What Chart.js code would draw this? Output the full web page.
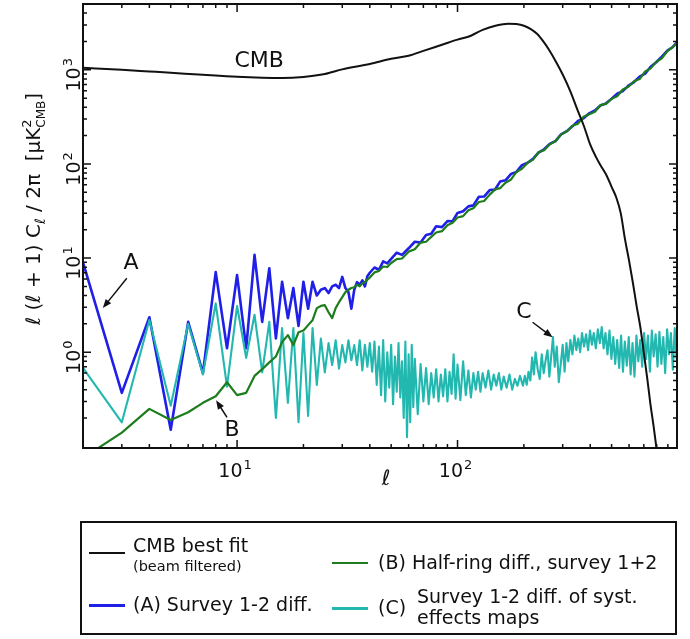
<!DOCTYPE html>
<html>
<head>
<meta charset="utf-8">
<title>Angular power spectra</title>
<script src="https://cdn.jsdelivr.net/npm/chart.js@4.4.1/dist/chart.umd.min.js"></script>
<style>
  html, body { margin: 0; background: #fff; }
  #page { position: relative; width: 690px; height: 639px; overflow: hidden; font-family: "DejaVu Sans", sans-serif; color: #111; }
  #chart { position: absolute; left: 0; top: 0; }
  #legend { position: absolute; left: 80px; top: 521px; width: 597px; height: 114px; box-sizing: border-box; border: 2px solid #111; }
  .key { position: absolute; width: 36px; }
  .lbl { position: absolute; font-size: 19px; line-height: 19px; white-space: nowrap; }
  .small { font-size: 14.5px; line-height: 15px; }
</style>
</head>
<body>
<div id="page">
  <canvas id="chart" width="690" height="639"></canvas>
  <div id="legend"></div>
  <div class="key" style="left:89px; top:552px; height:2px; background:#111"></div>
  <div class="lbl" style="left:133px; top:536px">CMB best fit</div>
  <div class="lbl small" style="left:133px; top:559px">(beam filtered)</div>
  <div class="key" style="left:89px; top:604px; height:3px; background:#1f1fe8"></div>
  <div class="lbl" style="left:133px; top:595px">(A) Survey 1-2 diff.</div>
  <div class="key" style="left:332px; top:562px; height:2px; background:#1d7d1d"></div>
  <div class="lbl" style="left:378px; top:553px">(B) Half-ring diff., survey 1+2</div>
  <div class="key" style="left:332px; top:607px; height:3px; background:#22b8b0"></div>
  <div class="lbl" style="left:378px; top:598px">(C)</div>
  <div class="lbl" style="left:417px; top:587px">Survey 1-2 diff. of syst.</div>
  <div class="lbl" style="left:417px; top:608px">effects maps</div>
</div>
<script>
// multipoles of the best-fit CMB spectrum (beam filtered), in uK^2
const cmbEll = [2, 3, 4, 5, 7, 10, 13, 16, 20, 25, 30, 40, 50, 60, 70, 85, 100, 115, 130, 150,
  170, 185, 200, 215, 230, 245, 260, 280, 300, 325, 350, 375, 400, 425, 450, 475, 500, 525, 550, 575,
  600, 625, 650, 675, 700, 725, 750, 775, 800];
const cmbBestFit = [1050, 1000, 960, 930, 885, 843, 825, 820, 840, 900, 1010, 1150, 1310, 1410, 1590, 1845, 2090, 2300, 2660, 2960,
  3090, 3060, 2940, 2710, 2400, 2000, 1630, 1210, 890, 590, 375, 250, 160, 118, 93, 75, 57, 44, 30, 15.9,
  9.4, 5.4, 3.05, 1.85, 0.99, 0.535, 0.28, 0.165, 0.093];

// multipoles shared by the two difference maps (A) and (B)
const diffEll = [2, 3, 4, 5, 6, 7, 8, 9, 10, 11, 12, 13, 14, 15, 16, 17, 18, 19, 20, 21,
  22, 23, 24, 25, 26, 27, 28, 29, 30, 31, 32, 33, 34, 35, 36, 37, 38, 39,
  40, 42, 44, 46, 48, 50, 53, 56, 60, 64, 68, 72, 76, 80, 85, 90, 95, 100, 106, 112,
  118, 125, 132, 140, 148, 156, 165, 175, 185, 196, 208, 220, 233, 247, 262, 278, 295, 313, 332, 352,
  373, 396, 420, 445, 472, 500, 530, 562, 596, 632, 670, 710, 752, 797, 845, 895, 948, 1000];
const surveyDiffA = [9.0, 0.37, 2.35, 0.15, 2.1, 0.6, 7.1, 1.1, 6.6, 1.1, 10.8, 2.1, 7.8, 1.4, 5.6, 2.3, 4.8, 1.9, 5.6, 2.9,
  5.6, 4.0, 4.6, 4.8, 4.25, 5.0, 5.2, 4.8, 6.3, 4.8, 4.35, 2.9, 4.6, 5.55, 5.2, 5.8, 5.0, 6.4,
  6.98, 7.94, 7.51, 9.24, 8.78, 9.82, 11.4, 10.8, 12.7, 14.9, 14.6, 17.6, 18.1, 21.8, 21.3, 24.7, 24.6, 30.2, 31.4, 35.4,
  36.3, 44.8, 45.0, 52.8, 53.6, 64.9, 67.0, 78.4, 82.2, 97.0, 103, 113, 132, 143, 163, 175, 206, 223, 251, 287,
  305, 345, 370, 417, 440, 492, 556, 594, 679, 741, 847, 912, 1078, 1202, 1382, 1600, 1747, 2006];
const halfRingB = [0.075, 0.14, 0.25, 0.19, 0.23, 0.29, 0.34, 0.48, 0.35, 0.37, 0.56, 0.66, 0.78, 0.9, 1.28, 1.52, 1.19, 1.63, 1.7, 1.94,
  2.19, 2.94, 3.1, 3.16, 2.66, 2.3, 2.94, 3.4, 3.85, 4.35, 4.6, 4.8, 4.9, 5.2, 5.0, 5.4, 5.55, 5.9,
  6.2, 7.04, 7.29, 8.14, 8.03, 8.86, 9.76, 9.89, 11.7, 12.4, 14.6, 14.9, 16.8, 18.7, 19.3, 22.3, 23.7, 27.0, 27.9, 32.2,
  33.9, 39.4, 40.4, 47.2, 53.6, 55.3, 63.2, 68.4, 82.2, 88.9, 103, 111, 133, 140, 162, 174, 206, 221, 254, 268,
  317, 338, 359, 421, 435, 492, 524, 618, 659, 756, 797, 959, 1036, 1214, 1327, 1584, 1747, 1986];

// multipoles and spectrum of the systematic-effects difference map (C)
const systEll = [2, 3, 4, 5, 6, 7, 8, 9, 10, 11, 12, 13, 14, 15, 16, 17, 18, 19, 20, 21,
  22, 23, 24, 25, 26, 27, 28, 29, 30, 31, 32, 33, 34, 35, 36, 37, 38, 39,
  40, 41, 42, 43, 44, 45, 46, 47, 48, 49, 50, 51, 52, 53, 54, 55, 56, 57, 58, 59, 60, 61, 62, 63, 64,
  66, 68, 70, 72, 74, 76, 78, 80, 82, 84, 86, 88, 90, 92, 94, 96, 98, 100,
  103, 106, 109, 112, 115, 118, 121, 124, 127, 130, 134, 138, 142, 146, 150, 154, 158, 162,
  167, 172, 177, 182, 187, 192,
  198, 202, 206, 210, 214, 218, 222, 226, 231, 236, 241, 246, 251, 256, 261, 266, 271, 276, 282, 288,
  294, 300, 306, 312, 318, 325, 332, 339, 346, 353, 360, 367, 375, 383, 391, 399, 407, 415, 424, 433,
  442, 451, 460, 469, 479, 489, 499, 509, 519, 530, 541, 552, 563, 574, 586, 598, 610, 622, 635, 648,
  661, 674, 688, 702, 716, 731, 746, 761, 776, 792, 808, 824, 841, 858, 875, 893, 911, 929, 948, 967,
  986, 1000];
const systDiffC = [0.68, 0.18, 2.2, 0.27, 2.0, 0.58, 3.3, 0.43, 3.1, 0.87, 2.5, 0.61, 2.1, 0.2, 1.8, 0.29, 1.8, 0.18, 1.6, 0.21,
  1.8, 0.45, 1.4, 0.61, 1.25, 0.73, 1.34, 0.67, 1.19, 0.78, 1.34, 0.82, 1.19, 0.73, 1.34, 0.64, 1.2, 0.7,
  1.25, 0.62, 1.3, 0.45, 1.15, 0.35, 1.35, 0.3, 1.0, 0.42, 1.2, 0.28, 0.9, 0.38, 1.25, 0.33, 0.8, 0.2, 1.3, 0.125, 0.95, 0.18, 1.2, 0.26, 0.85,
  0.22, 0.75, 0.3, 0.68, 0.28, 0.6, 0.33, 0.66, 0.3, 0.58, 0.34, 0.66, 0.3, 0.62, 0.36, 0.95, 0.32, 0.74,
  0.31, 0.8, 0.35, 0.64, 0.33, 0.6, 0.4, 0.62, 0.38, 0.6, 0.42, 0.64, 0.4, 0.58, 0.44, 0.6, 0.4, 0.55,
  0.42, 0.58, 0.4, 0.52, 0.44, 0.56,
  0.44, 0.56, 0.45, 0.62, 0.5, 0.88, 0.58, 1.0, 0.66, 0.52, 0.95, 0.6, 0.82, 1.05, 0.55, 0.9, 1.45, 0.7, 1.15, 0.48,
  0.75, 1.2, 0.62, 1.25, 0.8, 1.35, 0.95, 1.5, 1.05, 1.4, 1.0, 1.6, 1.15, 1.55, 1.05, 1.7, 1.2, 1.6, 1.1, 1.75,
  1.25, 1.85, 1.1, 1.6, 0.95, 1.7, 0.85, 1.45, 0.75, 1.35, 0.68, 1.5, 0.62, 1.3, 0.72, 1.45, 0.58, 1.25, 0.55, 1.5,
  0.8, 1.35, 0.7, 1.6, 0.85, 1.5, 0.62, 1.7, 0.9, 1.55, 0.7, 1.65, 0.75, 1.45, 0.6, 1.75, 0.95, 1.6, 0.65, 1.8,
  0.85, 1.55];

// decade ticks and their exponent labels
const xTicks = [10, 100];
const xTickExp = ['1', '2'];
const yTicks = [1, 10, 100, 1000];
const yTickExp = ['0', '1', '2', '3'];

// text labels with arrows, in data coordinates (ell, power)
const notes = [
  { text: 'CMB', at: [12.6, 1217] },
  { text: 'A', at: [3.3, 8.85], from: [3.16, 6.1], to: [2.46, 2.94] },
  { text: 'B', at: [9.5, 0.148], from: [9.0, 0.203], to: [8.03, 0.309] },
  { text: 'C', at: [200, 2.66], from: [219, 2.08], to: [270, 1.44] },
];

const BLACK = '#111';
const BLUE = '#1f1fe8';
const GREEN = '#1d7d1d';
const CYAN = '#22b8b0';
const FONT = '"DejaVu Sans", sans-serif';

const pairs = (xs, ys) => xs.map((x, i) => ({ x, y: ys[i] }));

function minorTicks(decades) {
  const out = [];
  decades.forEach((d) => { for (let k = 2; k <= 9; k++) out.push(k * d); });
  return out;
}

// "10" with a raised exponent, centred on cx
function drawPower(ctx, exp, cx, baseY) {
  ctx.font = '19px ' + FONT;
  const wb = ctx.measureText('10').width;
  ctx.font = '13px ' + FONT;
  const we = ctx.measureText(exp).width;
  const x0 = cx - (wb + we + 1) / 2;
  ctx.textAlign = 'left';
  ctx.textBaseline = 'alphabetic';
  ctx.font = '19px ' + FONT;
  ctx.fillText('10', x0, baseY);
  ctx.font = '13px ' + FONT;
  ctx.fillText(exp, x0 + wb + 1, baseY - 8);
}

// text runs with sub/superscripts, centred on cx
function drawRuns(ctx, runs, cx, baseY) {
  const widths = runs.map((r) => { ctx.font = r.s + 'px ' + FONT; return r.keep ? 0 : ctx.measureText(r.t).width; });
  let x = cx - widths.reduce((a, b) => a + b, 0) / 2;
  ctx.textAlign = 'left';
  ctx.textBaseline = 'alphabetic';
  runs.forEach((r, i) => {
    ctx.font = r.s + 'px ' + FONT;
    ctx.fillText(r.t, x, baseY + (r.dy || 0));
    x += widths[i];
  });
}

function arrow(ctx, x1, y1, x2, y2) {
  const ang = Math.atan2(y2 - y1, x2 - x1);
  const len = 9, half = 3.5;
  ctx.beginPath();
  ctx.moveTo(x1, y1);
  ctx.lineTo(x2 - len * 0.6 * Math.cos(ang), y2 - len * 0.6 * Math.sin(ang));
  ctx.stroke();
  ctx.beginPath();
  ctx.moveTo(x2, y2);
  ctx.lineTo(x2 - len * Math.cos(ang) + half * Math.sin(ang), y2 - len * Math.sin(ang) - half * Math.cos(ang));
  ctx.lineTo(x2 - len * Math.cos(ang) - half * Math.sin(ang), y2 - len * Math.sin(ang) + half * Math.cos(ang));
  ctx.closePath();
  ctx.fill();
}

const axesFrame = {
  id: 'axesFrame',
  afterDraw(chart) {
    const { ctx, chartArea: a, scales: { x, y } } = chart;
    ctx.save();
    ctx.strokeStyle = BLACK;
    ctx.fillStyle = BLACK;

    // inward ticks on all four sides
    ctx.lineWidth = 1.5;
    const tickX = (v, len) => {
      const px = x.getPixelForValue(v);
      ctx.beginPath();
      ctx.moveTo(px, a.bottom); ctx.lineTo(px, a.bottom - len);
      ctx.moveTo(px, a.top); ctx.lineTo(px, a.top + len);
      ctx.stroke();
    };
    const tickY = (v, len) => {
      const py = y.getPixelForValue(v);
      ctx.beginPath();
      ctx.moveTo(a.left, py); ctx.lineTo(a.left + len, py);
      ctx.moveTo(a.right, py); ctx.lineTo(a.right - len, py);
      ctx.stroke();
    };
    minorTicks([1, 10, 100]).filter((v) => v > x.min && v < x.max).forEach((v) => tickX(v, 4));
    xTicks.forEach((v) => tickX(v, 8));
    minorTicks([0.1, 1, 10, 100, 1000]).filter((v) => v > y.min && v < y.max).forEach((v) => tickY(v, 4));
    yTicks.forEach((v) => tickY(v, 8));

    ctx.lineWidth = 2;
    ctx.strokeRect(a.left, a.top, a.right - a.left, a.bottom - a.top);

    // tick labels
    xTicks.forEach((v, i) => drawPower(ctx, xTickExp[i], x.getPixelForValue(v) - 2, 477));
    yTicks.forEach((v, i) => {
      ctx.save();
      ctx.translate(80, y.getPixelForValue(v) + 5);
      ctx.rotate(-Math.PI / 2);
      drawPower(ctx, yTickExp[i], 0, 0);
      ctx.restore();
    });

    // axis titles
    ctx.font = 'italic 21px ' + FONT;
    ctx.textAlign = 'center';
    ctx.textBaseline = 'middle';
    ctx.fillText('ℓ', 386, 480);

    ctx.save();
    ctx.translate(40, 209);
    ctx.rotate(-Math.PI / 2);
    drawRuns(ctx, [
      { t: 'ℓ (ℓ + 1) C', s: 20 },
      { t: 'ℓ', s: 14, dy: 5 },
      { t: ' / 2π  [μK', s: 20 },
      { t: '2', s: 13, dy: -9, keep: true },
      { t: 'CMB', s: 12, dy: 5 },
      { t: ']', s: 20 },
    ], 0, 0);
    ctx.restore();

    // annotations
    ctx.lineWidth = 1.5;
    notes.forEach((n) => {
      ctx.font = '22px ' + FONT;
      ctx.textAlign = 'center';
      ctx.textBaseline = 'middle';
      ctx.fillText(n.text, x.getPixelForValue(n.at[0]), y.getPixelForValue(n.at[1]));
      if (n.from) {
        arrow(ctx,
          x.getPixelForValue(n.from[0]), y.getPixelForValue(n.from[1]),
          x.getPixelForValue(n.to[0]), y.getPixelForValue(n.to[1]));
      }
    });
    ctx.restore();
  },
};

new Chart(document.getElementById('chart'), {
  type: 'line',
  data: {
    datasets: [
      { label: 'CMB best fit (beam filtered)', data: pairs(cmbEll, cmbBestFit), borderColor: BLACK, borderWidth: 2, cubicInterpolationMode: 'monotone' },
      { label: '(B) Half-ring diff., survey 1+2', data: pairs(diffEll, halfRingB), borderColor: GREEN, borderWidth: 2.2 },
      { label: '(C) Survey 1-2 diff. of syst. effects maps', data: pairs(systEll, systDiffC), borderColor: CYAN, borderWidth: 2.1 },
      { label: '(A) Survey 1-2 diff.', data: pairs(diffEll, surveyDiffA), borderColor: BLUE, borderWidth: 2.6 },
    ],
  },
  options: {
    responsive: false,
    animation: false,
    devicePixelRatio: 1,
    layout: { padding: { left: 83, top: 4, right: 13, bottom: 191 } },
    elements: {
      point: { radius: 0 },
      line: { tension: 0, borderJoinStyle: 'round', fill: false },
    },
    scales: {
      x: { type: 'logarithmic', min: 2, max: 990, display: false },
      y: { type: 'logarithmic', min: 0.096, max: 5000, display: false },
    },
    plugins: { legend: { display: false }, tooltip: { enabled: false } },
  },
  plugins: [axesFrame],
});
</script>
</body>
</html>
